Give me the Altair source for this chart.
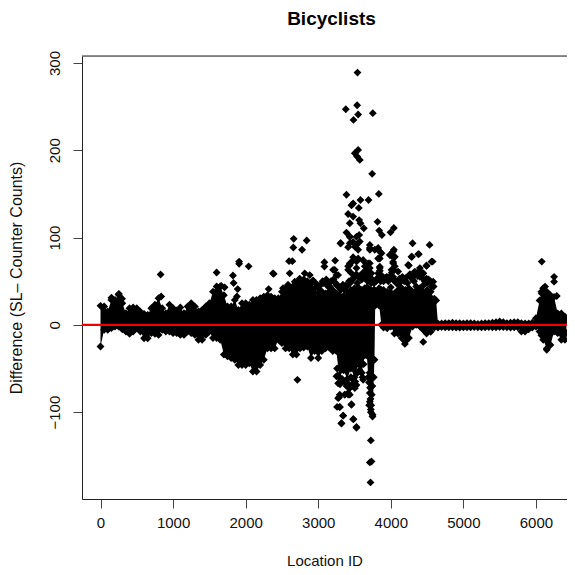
import altair as alt
import pandas as pd

FONT = "Liberation Sans"

# Dense core of the cloud: location, upper and lower envelope
core_id = [0,50,100,150,200,250,300,350,400,450,500,550,600,650,700,750,800,850,900,950,
           1000,1050,1100,1150,1200,1250,1300,1350,1400,1450,1500,1550,1600,1650,1700,1750,1800,1850,1900,1950,
           2000,2050,2100,2150,2200,2250,2300,2350,2400,2450,2500,2550,2600,2650,2700,2750,2800,2850,2900,2950,
           3000,3050,3100,3150,3200,3250,3290,3350,3400,3450,3500,3550,3600,3640,3670,3690,3725,3750,3765,3775,
           3785,3840,3870,3900,3950,4000,
           4050,4100,4150,4200,4250,4300,4350,4400,4450,4500,4550,4600,4625,4650,4700,4750,4800,
           4850,4900,4950,5000,5050,5100,5150,5200,5250,5300,5350,5400,5450,5500,5550,5600,5650,5700,5750,5800,
           5850,5900,5950,6000,6050,6075,6100,6150,6200,6250,6300,6350,6400,6420]
core_top = [21.8,21,15.3,28.6,28.6,34.4,24.8,13.4,19,20,19,15,12.6,11.5,19,23,30.5,19,13.4,23,
            19,16.4,20,13.4,21,24.8,21,15.3,17,21,24.8,38,44,44,34,21,21,28.6,17,24.8,
            24.8,23,28.6,28.6,30.5,32.4,34,32.4,30.5,30.5,38,42,43,44,48,50,52,50,47,42,
            36,38,36,38,40,36,34,33,38,40,42,43,40,42,43,42,40,38,40,40,
            38,42,40,40,38,43,
            36,40,42,40,42,38,44,42,38,40,38,30,28,1.5,1.5,2,2,
            2.5,2,2,1.5,2,2,1.5,1,1.5,2,2,2.5,3,3.8,3,2,2.5,3,3,2,
            1.5,1.5,2.5,7.6,28,38,42,38,34,32,13,13,9.5,5.7]
core_bot = [-24.8,-5.7,-5.7,-3.8,-1.9,-1.9,-5,-7.6,-10.3,-7.6,-3.8,-7.6,-15.3,-15.3,-9.5,-10.3,-11.5,-5.7,-7.6,-7.6,
            -9.5,-9.5,-11.5,-11.5,-7.6,-9.5,-11.5,-17,-17,-11.5,-7.6,-15,-15,-17,-34,-36,-38,-40,-46,-46,
            -46,-44,-53.4,-53.4,-46,-40,-27,-27,-27,-17,-21,-27,-27,-34,-34,-27,-26,-25,-38,-30,
            -38,-30,-27,-26,-30,-30,-60,-52,-62,-50,-60,-45,-55,-35,-35,-60,-100,-103,-60,-40,
            22,22,0,-3,-4,-2,
            -10,-10,-15,-19,-15,-2,0,-2,-6,-7,-8,-3,-1,-3,-2.5,-2.7,-2.7,
            -2.7,-3,-3,-2.7,-2.7,-2.7,-2.5,-2.7,-2.7,-2.7,-2.5,-2.7,-2.7,-2.5,-2.5,-2.7,-3,-2.7,-2.7,-7.6,
            -7.6,-5,-3,-2,-7.6,-12,-17,-27,-23,-7.6,-9.5,-17,-17,-9.5]

# Scattered individual points outside the dense core
out_id = [2662,2841,2657,2777,2598,2644,3085,3085,2386,2607,1910,1910,2041,1600,1825,1834,828,836,253,151,297,1890,1880,2317,1664,1710,
          3541,3380,3536,3550,3486,3752,3550,3504,3536,3573,3743,3389,3835,3582,3693,3458,3481,3559,3412,3481,3435,3564,3582,3628,3817,
          4042,3996,3840,3877,3389,3435,3527,3564,3311,3481,3527,3412,3550,3711,3711,3826,3872,3849,4042,4010,4056,4300,4534,4387,4291,
          4576,4493,4249,3233,3205,3251,3481,3619,3711,3435,3527,3412,3849,4033,4010,4401,4447,6080,6250,6250,6126,6080,6287,
          3720,3711,3734,3725,3527,3320,3486,3343,3297,3260,3458,3288,3412,3366,4447,4194,6149,4493,2713,
          3710,3779,3848,3825,4032,3986,3687,3710,3733,3710,3848,3825,3871,4032,4055,4101,4032,4124,4331,4308,4400,4446,4492,4584,4239,4492,4561,4377,4285,
          3306,2377,3228,3274,2745,2814,2883,2929,2676,2584,2515,3021,3136,3251,3366,3412,3435,3481,3550,3619,3527,3642,3688,3458,3550,3619,3435,3504,3573,3435,
          3274,3297,3274,3435,3504,3366,3435,3412,3297,3458,3343,3320,3481,3527,3481,3527,3251,3734,3711,3711,3725,3748,3702,3596,3619,
          2975,3025,3075,3125,3175,3225,3275,3325,3375,3425,3475,3525,3575,3620,3665,3700,3745,3795,3849,3880,3925,3965,4015,4040,4075,4125,4160,4210,4263,4300,4340,4401,4430,4470,4520,4545,4590,
          3000,3060,3110,3160,3210,3260,3310,3340,3390,3440,3490,3540,3600,3650,3680,3730,3770,3820,3860,3900,3945,3990,4030,4060,4110,4140,4185,4230,4280,4320,4370,4420,4455,4500,4560,
          3260,3270,3300,3330,3360,3390,3420,3450,3480,3510,3540,3570,3610,3625,3700,3715,3720,3730,3738,3745,3708]
out_val = [98.5,96.6,88.6,86,73,73,71.8,66.8,58.4,59,72.5,70,67,60,56.5,48,57.7,32.5,35.5,31,30,41,32.5,41,44.7,43,
           289,247,251.6,241,234.8,242.5,200.4,196.6,192.8,189,173,149,150,143,143,137,139,134,127,124,116.4,120,116.4,110.7,118,
           111,106,108,103,105.7,101,101,103,93.5,95,91.6,89,86,91.6,86,88,82,76,86,79,78,93.5,91.6,81,78,
           72.5,67.5,68,73.6,63,57,77.4,74,70.5,68.6,72.5,63,66.7,70.5,63,65,59,72.5,55,49.5,43.8,36,33,
           -180.5,-157.6,-156.5,-132.4,-118,-112.6,-108,-104,-94.3,-94,-91.6,-83,-80,-80,-19.5,-21.8,-28.6,-10,-63,
           88,86,84,76,84,80,70.5,65,59,53,65,59,53,72,67,61,55,53,61,55,55,59,53,49.5,68.6,68,72.4,81,78,
           93.5,59,63,57,53,59,57,51,49.5,46,42,40,44,46,40,67,70.5,74,76,74,65,67,61,59,55,55,93.5,89.6,95.4,101,
           -67,-80,-84,-72.5,-72.5,-80,-80,-78,-94,-91,-104,-113,-108,-117,-63,-69,-59,-70.5,-78,-88,-97,-105,-92,-55,-63,
           47,45,48,46,50,49,44,42,45,50,52,58,56,60,62,57,52,50,62,56,54,50,60,63,48,44,55,54,58,52,58,62,54,50,52,50,44,
           44,50,52,44,52,46,40,46,44,48,54,48,52,54,50,48,48,54,50,50,55,56,52,50,52,50,50,48,54,50,56,58,46,48,44,
           -50,-58,-68,-62,-65,-70,-68,-60,-68,-65,-55,-52,-60,-45,-66,-72,-85,-92,-80,-70,-55]

x_ticks = [0,1000,2000,3000,4000,5000,6000]
y_ticks = [-100,0,100,200,300]

core = pd.DataFrame({"id": core_id, "top": core_top, "bot": core_bot})
pts = pd.DataFrame({
    "id": core_id + core_id + out_id,
    "diff": core_top + core_bot + out_val,
})

xs = alt.Scale(domain=[-255, 6428], nice=False, zero=False)
ys = alt.Scale(domain=[-199.5, 308], nice=False, zero=False)

x_axis = alt.Axis(values=x_ticks, grid=False, format="d", title="Location ID", titleFont=FONT, titleFontSize=15,
                  titleFontWeight="normal", titleColor="#111", titlePadding=23, labelFont=FONT, labelFontSize=15,
                  labelColor="#111", labelPadding=7, tickSize=9, tickColor="#444", domainColor="#222", labelFlush=False)
y_axis = alt.Axis(values=y_ticks, grid=False, format="d", title="Difference (SL\u2013 Counter Counts)", titleFont=FONT,
                  titleFontSize=16, titleFontWeight="normal", titleColor="#111", titlePadding=23, labelFont=FONT,
                  labelFontSize=15, labelColor="#111", labelAngle=-90, labelAlign="center", labelBaseline="bottom",
                  labelPadding=11, tickSize=9, tickColor="#444", domainColor="#222")

band = alt.Chart(core).mark_area(color="black", interpolate="linear").encode(
    x=alt.X("id:Q", scale=xs, axis=x_axis),
    y=alt.Y("top:Q", scale=ys, axis=y_axis),
    y2="bot:Q",
)
points = alt.Chart(pts).mark_point(shape="diamond", filled=True, color="black", size=62, opacity=1).encode(
    x=alt.X("id:Q", scale=xs),
    y=alt.Y("diff:Q", scale=ys),
)
zero = alt.Chart(pd.DataFrame({"v": [0]})).mark_rule(color="#f00000", strokeWidth=2.4).encode(y=alt.Y("v:Q", scale=ys))
top_line = alt.Chart(pd.DataFrame({"v": [308]})).mark_rule(color="#222", strokeWidth=1).encode(y=alt.Y("v:Q", scale=ys))

chart = (band + points + zero + top_line).properties(
    width=485, height=443,
    title=alt.TitleParams("Bicyclists", font=FONT, fontSize=19, fontWeight="bold", color="black", dx=7, offset=21, anchor="middle"),
    autosize=alt.AutoSizeParams(type="none"),
    padding={"left": 74, "top": 48, "right": 0, "bottom": 68},
).configure_view(stroke=None).configure(background="white")

chart.save("out.html", embed_options={"renderer": "svg", "actions": False})
